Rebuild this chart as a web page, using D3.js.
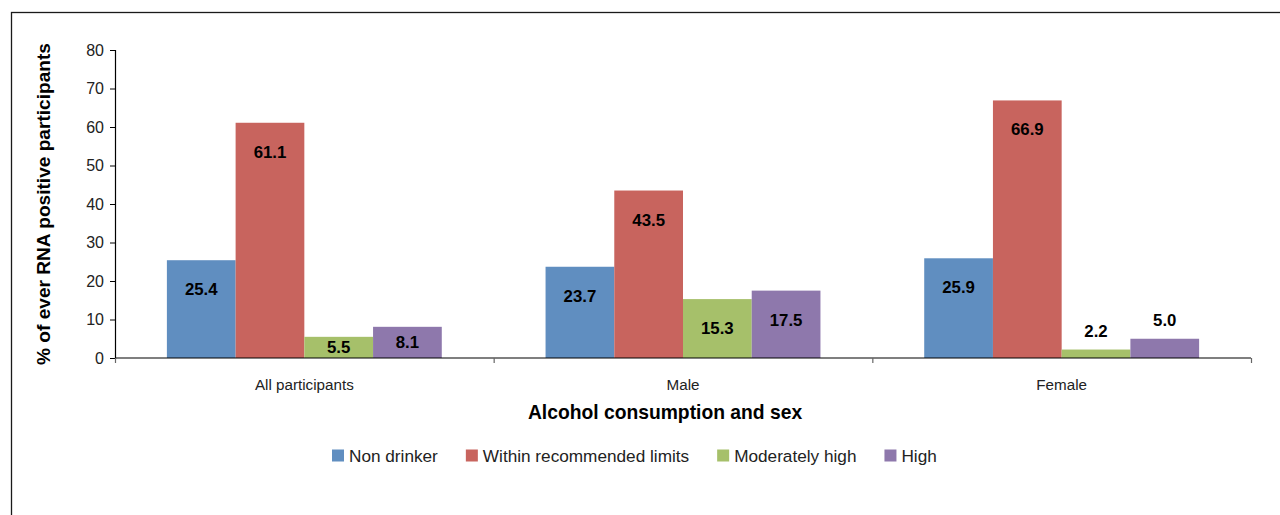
<!DOCTYPE html>
<html>
<head>
<meta charset="utf-8">
<script src="https://cdn.jsdelivr.net/npm/d3@7"></script>
<style>
  html, body { margin: 0; padding: 0; background: #fff; }
  svg { display: block; font-family: "Liberation Sans", Arial, sans-serif; }
</style>
</head>
<body>
<svg id="chart" width="1280" height="515"></svg>
<script>
// Groups along the x axis and drinking categories (series)
const groups = ["All participants", "Male", "Female"];
const series = ["Non drinker", "Within recommended limits", "Moderately high", "High"];

// Percent of ever RNA positive participants, one array per series (in group order)
const nonDrinker = [25.4, 23.7, 25.9];
const withinLimits = [61.1, 43.5, 66.9];
const moderatelyHigh = [5.5, 15.3, 2.2];
const high = [8.1, 17.5, 5.0];

const yTicks = [0, 10, 20, 30, 40, 50, 60, 70, 80];

const seriesValues = [nonDrinker, withinLimits, moderatelyHigh, high];
const colors = ["#608EC0", "#C8645E", "#A6C06A", "#8E78AC"];

const svg = d3.select("#chart");

// Outer chart frame
svg.append("rect")
  .attr("x", 11.5).attr("y", 12.5)
  .attr("width", 1400).attr("height", 600)
  .attr("fill", "none").attr("stroke", "#1a1a1a").attr("stroke-width", 1.3);

const plot = { left: 115, right: 1251, top: 50, bottom: 358 };

const y = d3.scaleLinear().domain([0, 80]).range([plot.bottom, plot.top]);
const x0 = d3.scaleBand().domain(groups).range([plot.left, plot.right]).padding(0);
const x1 = d3.scaleBand().domain(series).range([0, x0.bandwidth()])
  .paddingInner(0).paddingOuter(0.755);
const color = d3.scaleOrdinal().domain(series).range(colors);

// Flatten into bar records
const bars = [];
groups.forEach((g, gi) => {
  series.forEach((s, si) => {
    bars.push({ group: g, series: s, value: seriesValues[si][gi] });
  });
});

// Bars
svg.append("g").selectAll("rect")
  .data(bars)
  .join("rect")
  .attr("x", d => x0(d.group) + x1(d.series))
  .attr("y", d => y(d.value))
  .attr("width", x1.bandwidth())
  .attr("height", d => y(0) - y(d.value))
  .attr("fill", d => color(d.series));

// Value labels: inside the bar near its top, or above very short bars
svg.append("g").selectAll("text")
  .data(bars)
  .join("text")
  .attr("x", d => x0(d.group) + x1(d.series) + x1.bandwidth() / 2)
  .attr("y", d => {
    const top = y(d.value);
    const h = y(0) - top;
    if (d.value < 5.2) return top - 18.5;
    return top + Math.min(29, h / 2);
  })
  .attr("dy", "0.36em")
  .attr("text-anchor", "middle")
  .attr("font-size", "16.8px")
  .attr("font-weight", "bold")
  .attr("fill", "#000")
  .text(d => d3.format(".1f")(d.value));

// Y axis
const yAxis = svg.append("g")
  .attr("transform", `translate(${plot.left},0)`)
  .call(d3.axisLeft(y).tickValues(yTicks).tickSize(5).tickPadding(6).tickFormat(d3.format("d")));
yAxis.select(".domain").attr("stroke", "#000").attr("stroke-width", 1.2);
yAxis.selectAll(".tick line").attr("stroke", "#000");
yAxis.selectAll("text").attr("font-size", "16px").attr("fill", "#222")
  .attr("font-family", "'Liberation Sans', Arial, sans-serif");

// X axis: boundary ticks between groups
const xb = d3.scaleLinear().domain([0, groups.length]).range([plot.left, plot.right]);
const xAxis = svg.append("g")
  .attr("transform", `translate(0,${plot.bottom})`)
  .call(d3.axisBottom(xb).tickValues(d3.range(groups.length + 1)).tickSize(5).tickFormat(""));
xAxis.select(".domain").attr("stroke", "#000").attr("stroke-width", 1.2)
  .attr("d", `M${plot.left},0H${plot.right}`);
xAxis.selectAll(".tick line").attr("stroke", "#666").attr("stroke-width", 1.2);

// Group labels
const xLabels = svg.append("g")
  .attr("transform", `translate(0,${plot.bottom})`)
  .call(d3.axisBottom(x0).tickSize(0).tickPadding(21));
xLabels.select(".domain").remove();
xLabels.selectAll("text").attr("font-size", "15.2px").attr("fill", "#222")
  .attr("font-family", "'Liberation Sans', Arial, sans-serif");

// Axis titles
svg.append("text")
  .attr("x", 665).attr("y", 419)
  .attr("text-anchor", "middle")
  .attr("font-size", "19.3px").attr("font-weight", "bold").attr("fill", "#000")
  .text("Alcohol consumption and sex");

svg.append("text")
  .attr("transform", "translate(43.5,204) rotate(-90)")
  .attr("dy", "0.36em")
  .attr("text-anchor", "middle")
  .attr("font-size", "19.1px").attr("font-weight", "bold").attr("fill", "#000")
  .text("% of ever RNA positive participants");

// Legend
const legend = svg.append("g").attr("transform", "translate(332,449.5)");
let lx = 0;
series.forEach((s, i) => {
  const item = legend.append("g").attr("transform", `translate(${lx},0)`);
  item.append("rect").attr("width", 12).attr("height", 12).attr("fill", color(s));
  const t = item.append("text")
    .attr("x", 17).attr("y", 6).attr("dy", "0.36em")
    .attr("font-size", "17.2px").attr("fill", "#222")
    .text(s);
  lx += 17 + t.node().getComputedTextLength() + 28;
});
</script>
</body>
</html>
